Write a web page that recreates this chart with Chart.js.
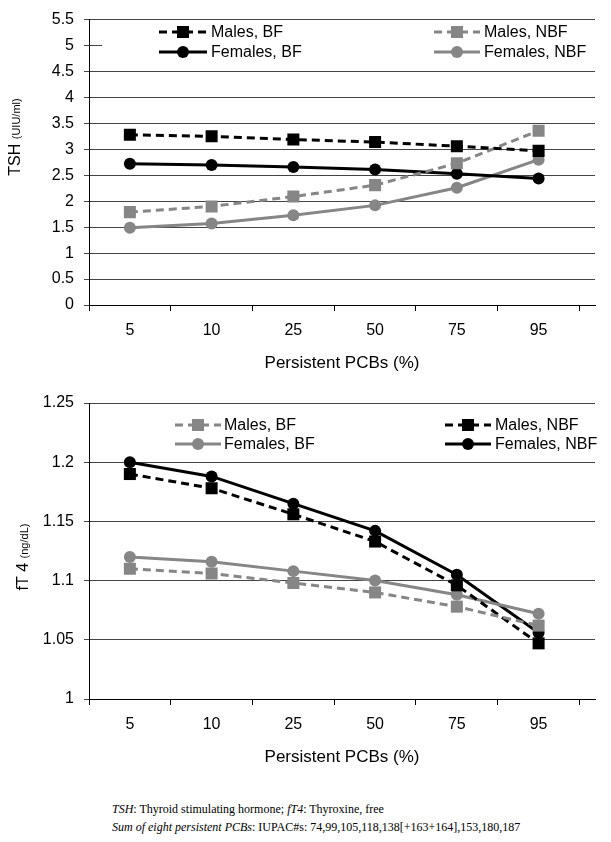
<!DOCTYPE html>
<html>
<head>
<meta charset="utf-8">
<script src="https://cdn.jsdelivr.net/npm/chart.js@4.4.1/dist/chart.umd.min.js"></script>
<style>
  body { margin: 0; background: #fff; width: 611px; height: 842px; position: relative; overflow: hidden; }
  canvas { position: absolute; left: 0; }
  #tshChart { top: 0; }
  #ft4Chart { top: 380px; }
  .note {
    position: absolute; left: 112px; top: 800px;
    font-family: "Liberation Serif", "Times New Roman", serif;
    font-size: 12px; line-height: 18px; color: #000; white-space: nowrap;
  }
</style>
</head>
<body>
<canvas id="tshChart" width="611" height="380"></canvas>
<canvas id="ft4Chart" width="611" height="394"></canvas>
<div class="note"><i>TSH</i>: Thyroid stimulating hormone; <i>fT4</i>: Thyroxine, free<br><i>Sum of eight persistent PCBs</i>: IUPAC#s: 74,99,105,118,138[+163+164],153,180,187</div>
<script>
// x categories (percentiles of persistent PCBs)
const percentiles = ["5", "10", "25", "50", "75", "95"];

// TSH (uIU/ml)
const tshMalesBF = [3.28, 3.25, 3.19, 3.14, 3.06, 2.97];
const tshMalesNBF = [1.79, 1.9, 2.09, 2.31, 2.73, 3.36];
const tshFemalesBF = [2.72, 2.7, 2.66, 2.61, 2.53, 2.44];
const tshFemalesNBF = [1.49, 1.57, 1.73, 1.92, 2.26, 2.8];

// fT4 (ng/dL)
const ft4MalesBF = [1.11, 1.106, 1.098, 1.09, 1.078, 1.062];
const ft4MalesNBF = [1.19, 1.178, 1.156, 1.133, 1.096, 1.047];
const ft4FemalesBF = [1.12, 1.116, 1.108, 1.1, 1.088, 1.072];
const ft4FemalesNBF = [1.2, 1.188, 1.165, 1.142, 1.105, 1.056];

const BLACK = "#000000";
const GREY = "#868686";

Chart.defaults.font.family = '"Liberation Sans", Arial, sans-serif';
Chart.defaults.color = "#000";

function series(label, values, color, dashed, marker) {
  return {
    label: label,
    data: values.map((v, i) => ({ x: i + 0.5, y: v })),
    borderColor: color,
    backgroundColor: color,
    borderWidth: 3,
    borderDash: dashed ? [8, 5] : [],
    pointStyle: marker,
    pointRadius: marker === "rect" ? 8.5 : 6,
    pointBorderWidth: 0,
    pointBackgroundColor: color,
    tension: 0,
  };
}

// draws the boxed two-column legend inside the plot
const boxLegend = {
  id: "boxLegend",
  afterDatasetsDraw(chart, args, opts) {
    const ctx = chart.ctx;
    ctx.save();
    ctx.fillStyle = "#fff";
    const b = opts.box;
    ctx.fillRect(b[0], b[1], b[2] - b[0], b[3] - b[1]);
    chart.data.datasets.forEach((ds, i) => {
      const col = opts.cols[i % 2];
      const y = opts.rows[Math.floor(i / 2)];
      ctx.strokeStyle = ds.borderColor;
      ctx.lineWidth = ds.borderWidth;
      ctx.setLineDash(ds.borderDash);
      ctx.beginPath();
      ctx.moveTo(col[0], y);
      ctx.lineTo(col[1], y);
      ctx.stroke();
      ctx.setLineDash([]);
      ctx.fillStyle = ds.backgroundColor;
      Chart.helpers.drawPoint(
        ctx,
        { pointStyle: ds.pointStyle, radius: ds.pointRadius, borderWidth: 0, rotation: 0 },
        (col[0] + col[1]) / 2,
        y
      );
      ctx.fillStyle = "#000";
      ctx.font = '16px "Liberation Sans", Arial, sans-serif';
      ctx.textBaseline = "middle";
      ctx.textAlign = "left";
      ctx.fillText(ds.label, col[2], y + 1);
    });
    ctx.restore();
  },
};

// rotated y title with a smaller unit part
const yTitle = {
  id: "yTitle",
  afterDraw(chart, args, opts) {
    const ctx = chart.ctx;
    ctx.save();
    ctx.translate(opts.x, opts.y);
    ctx.rotate(-Math.PI / 2);
    ctx.fillStyle = "#000";
    ctx.textBaseline = "alphabetic";
    ctx.textAlign = "left";
    const mainFont = '16px "Liberation Sans", Arial, sans-serif';
    const subFont = '11px "Liberation Sans", Arial, sans-serif';
    ctx.font = mainFont;
    const w1 = ctx.measureText(opts.main + " ").width;
    ctx.font = subFont;
    const w2 = ctx.measureText(opts.sub).width;
    let x = -(w1 + w2) / 2;
    ctx.font = mainFont;
    ctx.fillText(opts.main, x, 0);
    ctx.font = subFont;
    ctx.fillText(opts.sub, x + w1, 0);
    ctx.restore();
  },
};

const tickVals = [];
for (let i = 0; i <= 12; i++) tickVals.push(i / 2);

function xAxis() {
  return {
    type: "linear",
    min: 0,
    max: 6.19,
    afterBuildTicks: (s) => {
      s.ticks = tickVals.map((v) => ({ value: v }));
    },
    afterFit: (s) => {
      s.height = 75;
    },
    grid: {
      drawOnChartArea: false,
      drawTicks: true,
      tickLength: 6,
      lineWidth: 1,
      color: (c) => (c.tick && Number.isInteger(c.tick.value) ? "#000" : "rgba(0,0,0,0)"),
    },
    border: { display: true, color: "#000", width: 1 },
    ticks: {
      autoSkip: false,
      maxRotation: 0,
      padding: 10,
      font: { size: 16 },
      callback: (v) => (Number.isInteger(v) ? "" : percentiles[Math.floor(v)]),
    },
    title: {
      display: true,
      text: "Persistent PCBs (%)",
      font: { size: 17 },
      padding: { top: 0, bottom: 6 },
    },
  };
}

function yAxis(min, max, step) {
  return {
    min: min,
    max: max,
    afterFit: (s) => {
      s.width = 89;
    },
    ticks: {
      stepSize: step,
      padding: 10,
      font: { size: 16 },
      callback: (v) => String(Number(v.toFixed(2))),
    },
    grid: { color: "#444", lineWidth: 1, tickLength: 5, drawTicks: true },
    border: { display: true, color: "#000", width: 1 },
  };
}

new Chart(document.getElementById("tshChart"), {
  type: "line",
  data: {
    datasets: [
      series("Males, BF", tshMalesBF, BLACK, true, "rect"),
      series("Males, NBF", tshMalesNBF, GREY, true, "rect"),
      series("Females, BF", tshFemalesBF, BLACK, false, "circle"),
      series("Females, NBF", tshFemalesNBF, GREY, false, "circle"),
    ],
  },
  options: {
    responsive: false,
    animation: false,
    layout: { padding: { left: 0, right: 16, top: 14, bottom: 0 } },
    scales: { x: xAxis(), y: yAxis(0, 5.5, 0.5) },
    plugins: {
      legend: { display: false },
      tooltip: { enabled: false },
      boxLegend: { box: [102, 20, 600, 62], rows: [32, 52], cols: [[159, 207, 211], [434, 480, 484]] },
      yTitle: { main: "TSH", sub: "(UIU/ml)", x: 20, y: 137 },
    },
  },
  plugins: [boxLegend, yTitle],
});

new Chart(document.getElementById("ft4Chart"), {
  type: "line",
  data: {
    datasets: [
      series("Males, BF", ft4MalesBF, GREY, true, "rect"),
      series("Males, NBF", ft4MalesNBF, BLACK, true, "rect"),
      series("Females, BF", ft4FemalesBF, GREY, false, "circle"),
      series("Females, NBF", ft4FemalesNBF, BLACK, false, "circle"),
    ],
  },
  options: {
    responsive: false,
    animation: false,
    layout: { padding: { left: 0, right: 16, top: 23, bottom: 0 } },
    scales: { x: xAxis(), y: yAxis(1, 1.25, 0.05) },
    plugins: {
      legend: { display: false },
      tooltip: { enabled: false },
      boxLegend: { box: [160, 33, 600, 76], rows: [45, 64], cols: [[175, 221, 224], [445, 491, 495]] },
      yTitle: { main: "fT 4", sub: "(ng/dL)", x: 28, y: 177 },
    },
  },
  plugins: [boxLegend, yTitle],
});
</script>
</body>
</html>
